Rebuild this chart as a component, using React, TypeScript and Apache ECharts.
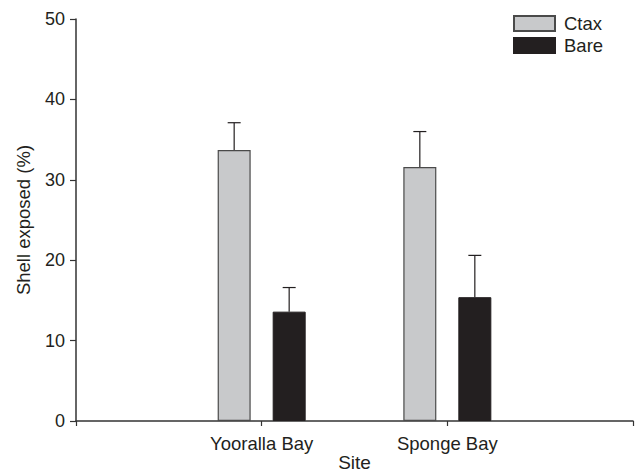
import React, { useEffect, useRef } from "react";
import * as echarts from "echarts";

const categories = ["", "Yooralla Bay", "Sponge Bay", ""];
const ctaxMean = ["-", 33.7, 31.6, "-"];
const bareMean = ["-", 13.6, 15.4, "-"];
const ctaxUpper = [null, 37.1, 36.0, null];
const bareUpper = [null, 16.6, 20.6, null];
const yTicks = [0, 10, 20, 30, 40, 50];

const FONT = "Liberation Sans";
const BAR_W = 33;
const OFFSET = 27.5;

function errorSeries(name: string, means: any[], uppers: any[], dx: number) {
  const data = means
    .map((m, i) => (uppers[i] == null ? null : [i, m, uppers[i]]))
    .filter((d) => d !== null);
  return {
    type: "custom",
    name: name + "-err",
    data,
    z: 5,
    renderItem: (params: any, api: any) => {
      const idx = api.value(0);
      const lo = api.coord([idx, api.value(1)]);
      const hi = api.coord([idx, api.value(2)]);
      const x = lo[0] + dx;
      return {
        type: "group",
        children: [
          { type: "line", shape: { x1: x, y1: lo[1], x2: x, y2: hi[1] }, style: { stroke: "#231f20", lineWidth: 1.2 } },
          { type: "line", shape: { x1: x - 6.5, y1: hi[1], x2: x + 6.5, y2: hi[1] }, style: { stroke: "#231f20", lineWidth: 1.2 } },
        ],
      };
    },
  };
}

export default function App() {
  const ref = useRef<HTMLDivElement>(null);
  useEffect(() => {
    const chart = echarts.init(ref.current!, null, { renderer: "svg" });
    chart.setOption({
      animation: false,
      textStyle: { fontFamily: FONT },
      grid: { left: 76, right: 2, top: 19, bottom: 52, containLabel: false, outerBoundsMode: "none" },
      legend: {
        orient: "vertical",
        left: 513,
        top: 14,
        padding: 0,
        itemWidth: 41,
        itemHeight: 15,
        itemGap: 3,
        icon: "rect",
        textStyle: { fontFamily: FONT, fontSize: 18.5, color: "#231f20", padding: [0, 0, 0, 4] },
        data: ["Ctax", "Bare"],
      },
      xAxis: {
        type: "category",
        data: categories,
        boundaryGap: false,
        name: "Site",
        nameLocation: "middle",
        nameGap: 32,
        nameMoveOverlap: false,
        nameTextStyle: { fontFamily: FONT, fontSize: 19, color: "#231f20" },
        axisLine: { lineStyle: { color: "#333", width: 1.5 } },
        axisTick: { show: true, length: 5, lineStyle: { color: "#333", width: 1.2 }, alignWithLabel: true },
        axisLabel: { fontFamily: FONT, fontSize: 18.5, color: "#231f20", margin: 13, interval: 0 },
        splitLine: { show: false },
      },
      yAxis: {
        type: "value",
        min: yTicks[0],
        max: yTicks[yTicks.length - 1],
        interval: 10,
        name: "Shell exposed (%)",
        nameLocation: "middle",
        nameGap: 43,
        nameMoveOverlap: false,
        nameTextStyle: { fontFamily: FONT, fontSize: 18.5, color: "#231f20" },
        axisLine: { show: true, lineStyle: { color: "#333", width: 1.5 } },
        axisTick: { show: true, length: 6, lineStyle: { color: "#333", width: 1.2 } },
        axisLabel: { fontFamily: FONT, fontSize: 18, color: "#231f20", margin: 11 },
        splitLine: { show: false },
      },
      series: [
        {
          type: "bar",
          name: "Ctax",
          data: ctaxMean,
          barWidth: BAR_W,
          barGap: "66.7%",
          itemStyle: { color: "#c8c9cb", borderColor: "#4a4a4a", borderWidth: 1.2 },
        },
        {
          type: "bar",
          name: "Bare",
          data: bareMean,
          barWidth: BAR_W,
          barGap: "66.7%",
          itemStyle: { color: "#231f20", borderColor: "#231f20", borderWidth: 1 },
        },
        errorSeries("Ctax", ctaxMean, ctaxUpper, -OFFSET),
        errorSeries("Bare", bareMean, bareUpper, OFFSET),
      ],
    });
    return () => chart.dispose();
  }, []);
  return <div ref={ref} style={{ width: 635, height: 473, position: "absolute", left: 0, top: 0, background: "#fff" }} />;
}
